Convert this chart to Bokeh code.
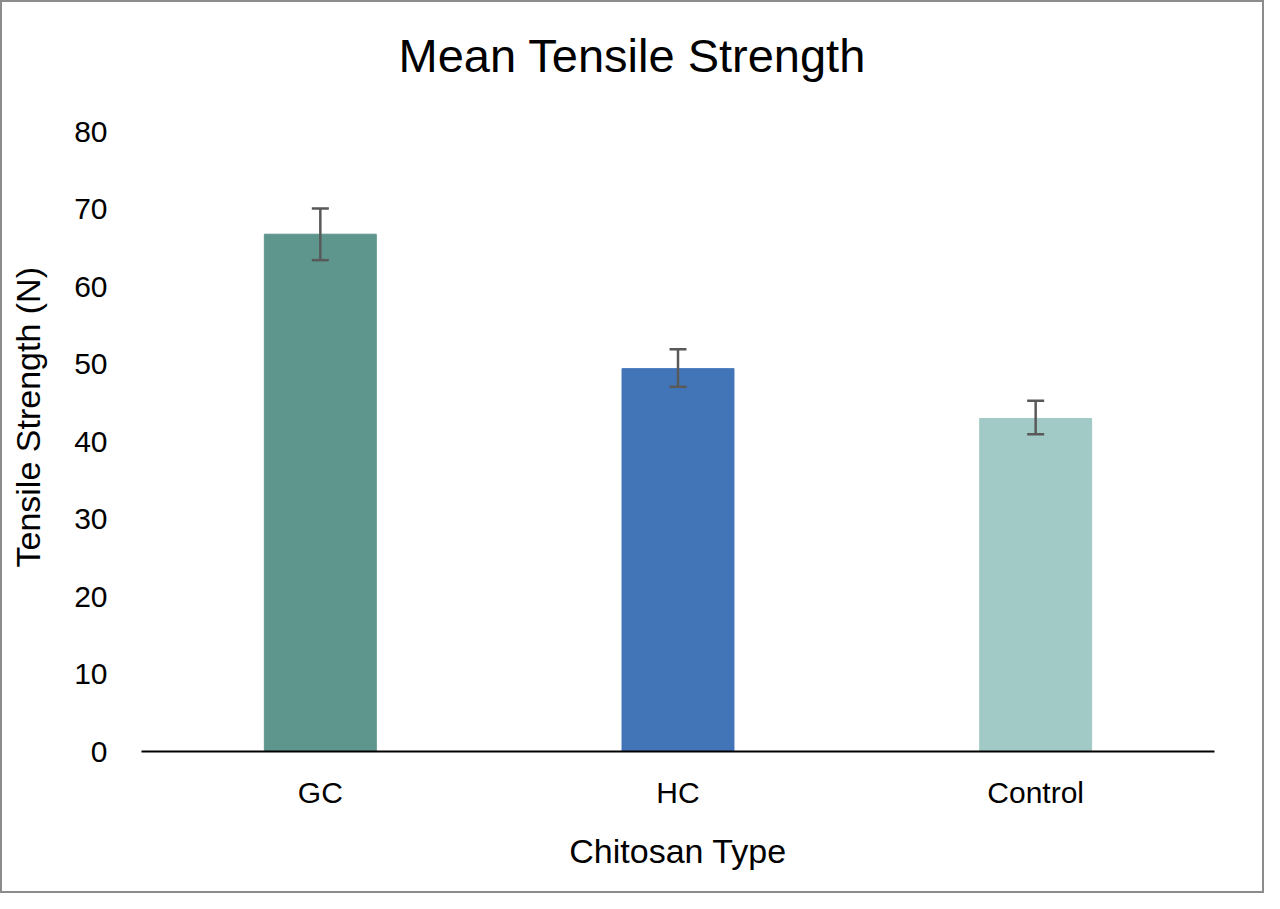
from bokeh.plotting import figure
from bokeh.models import ColumnDataSource, Whisker, TeeHead, FixedTicker, Title
from bokeh.embed import file_html
from bokeh.resources import INLINE

categories = ["GC", "HC", "Control"]
means = [66.75, 49.4, 42.97]
upper = [70.06, 51.9, 45.25]
lower = [63.4, 47.06, 40.94]
colors = ["#5E968D", "#4275B8", "#A1CAC6"]
y_ticks = [0, 10, 20, 30, 40, 50, 60, 70, 80]
title_text = "Mean Tensile Strength"
x_title = "Chitosan Type"
y_title = "Tensile Strength (N)"

FONT = "Liberation Sans"

src = ColumnDataSource(dict(cat=categories, mean=means, upper=upper,
                            lower=lower, color=colors))

p = figure(x_range=categories, y_range=(0, 80), width=1264, height=893,
           output_backend="svg", toolbar_location=None, title_location=None,
           min_border_left=139, min_border_right=52,
           min_border_top=129, min_border_bottom=144)

p.vbar(x="cat", top="mean", width=0.313, color="color", source=src)

w = Whisker(base="cat", upper="upper", lower="lower", source=src,
            line_color="#595959", line_width=2.5, level="overlay",
            upper_head=TeeHead(size=17, line_color="#595959", line_width=2.5),
            lower_head=TeeHead(size=17, line_color="#595959", line_width=2.5))
p.add_layout(w)

# spacer panels (blank) so that the titles sit away from the frame
p.add_layout(Title(text=" ", text_font_size="1px", standoff=47), "above")
p.add_layout(Title(text=title_text, text_font=FONT, text_font_size="47px",
                   text_font_style="normal", text_color="#000000",
                   align="left", offset=257, vertical_align="bottom",
                   standoff=0), "above")

p.add_layout(Title(text=" ", text_font_size="1px", standoff=22), "left")
p.add_layout(Title(text=y_title, text_font=FONT, text_font_size="34px",
                   text_font_style="normal", text_color="#000000",
                   align="left", offset=184, vertical_align="bottom",
                   standoff=0), "left")

p.xgrid.grid_line_color = None
p.ygrid.grid_line_color = None
p.outline_line_color = None

p.yaxis.ticker = FixedTicker(ticks=y_ticks)
p.yaxis.axis_line_color = None
p.yaxis.major_tick_line_color = None
p.yaxis.minor_tick_line_color = None
p.yaxis.major_tick_out = 0
p.yaxis.major_label_standoff = 34
p.yaxis.major_label_text_font = FONT
p.yaxis.major_label_text_font_size = "30px"
p.yaxis.major_label_text_color = "#000000"

p.xaxis.axis_line_color = "#000000"
p.xaxis.axis_line_width = 2
p.xaxis.major_tick_line_color = None
p.xaxis.minor_tick_line_color = None
p.xaxis.major_tick_out = 0
p.xaxis.major_label_standoff = 24
p.xaxis.major_label_text_font = FONT
p.xaxis.major_label_text_font_size = "30px"
p.xaxis.major_label_text_color = "#000000"
p.xaxis.axis_label = x_title
p.xaxis.axis_label_text_font = FONT
p.xaxis.axis_label_text_font_size = "34px"
p.xaxis.axis_label_text_font_style = "normal"
p.xaxis.axis_label_text_color = "#000000"
p.xaxis.axis_label_standoff = 20

p.styles = {"border": "2px solid #8C8C8C", "box-sizing": "border-box"}

open("out.html", "w").write(file_html(p, INLINE))
